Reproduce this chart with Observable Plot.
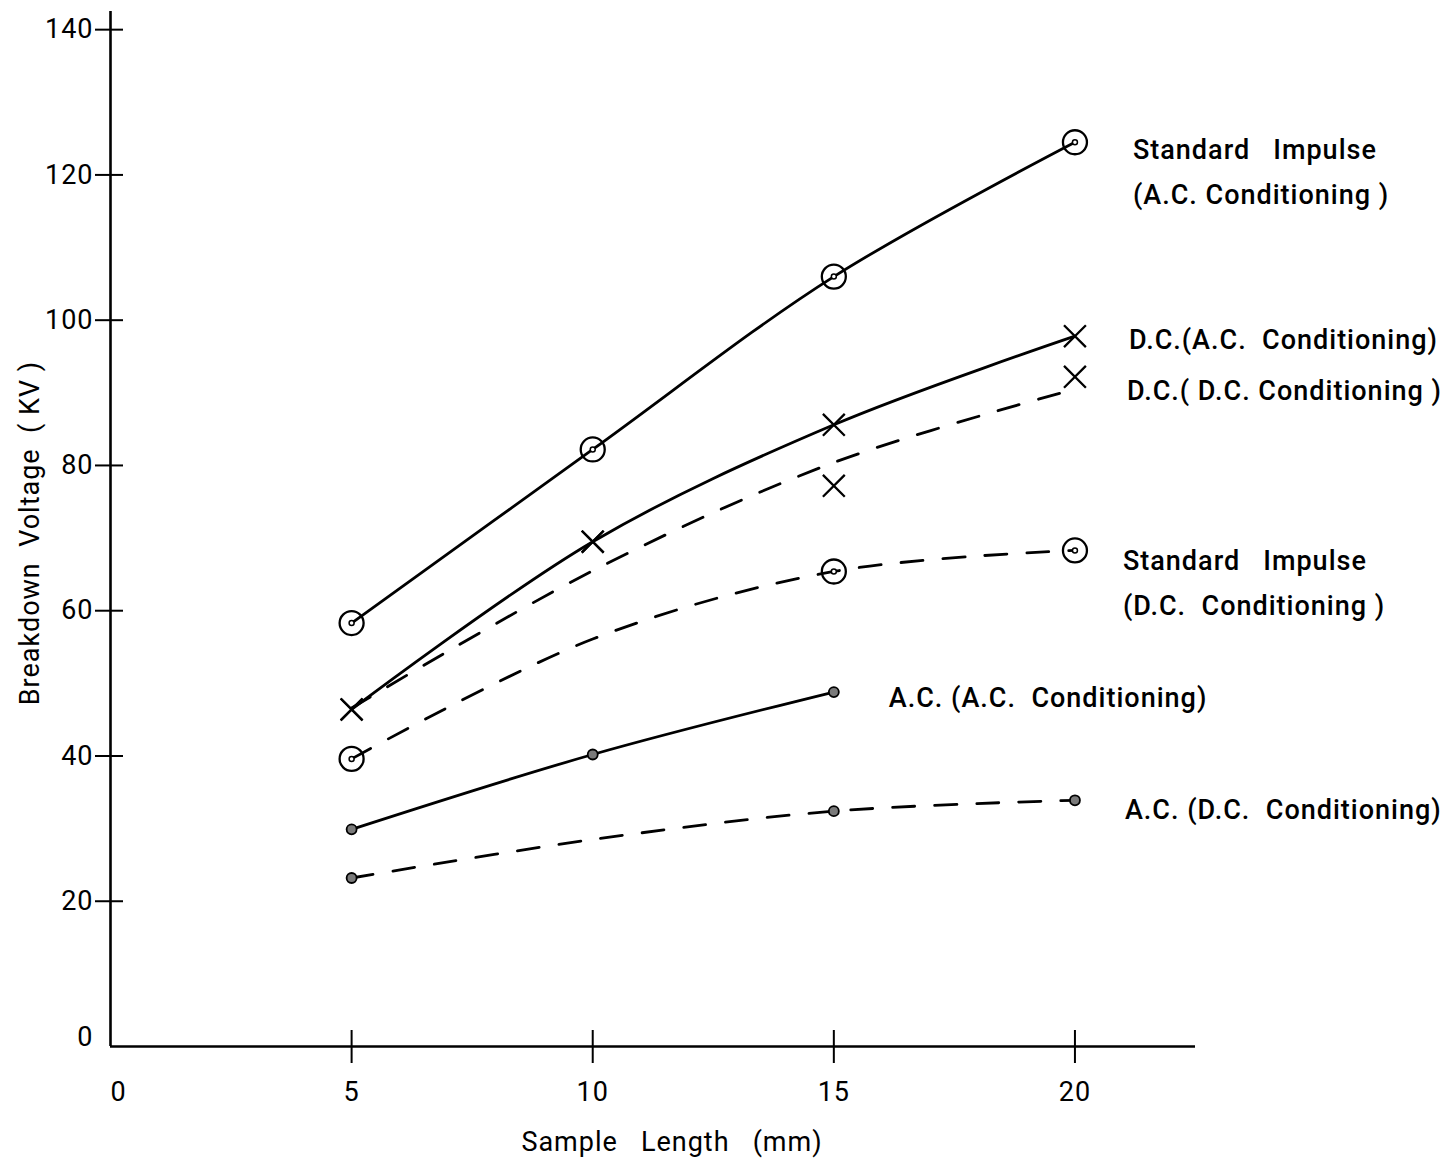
<!DOCTYPE html>
<html>
<head>
<meta charset="utf-8">
<script src="https://cdn.jsdelivr.net/npm/d3@7"></script>
<script src="https://cdn.jsdelivr.net/npm/@observablehq/plot@0.6"></script>
<style>
  body { margin: 0; background: #fff; }
  #chart svg text { letter-spacing: 1px; white-space: pre; }
</style>
</head>
<body>
<div id="chart"></div>
<script>
// Sample lengths (mm) at which breakdown was measured
const lengths = [5, 10, 15, 20];

// Breakdown voltage (kV); null where no measurement was plotted
const impulseAC       = [58.3, 82.2, 106.0, 124.5];
const dcAC            = [46.4, 69.5, 85.6, 97.8];
const dcDCPoints      = [46.4, 69.5, 77.2, 92.2];
const dcDCCurve       = [46.6, 65.5, 80.4, 90.5];
const impulseDCPoints = [39.6, null, 65.4, 68.3];
const impulseDCCurve  = [39.6, 56.1, 65.4, 68.3];
const acAC            = [29.9, 40.2, 48.8, null];
const acDCPoints      = [23.2, null, 32.4, 33.9];
const acDCCurve       = [23.2, 28.5, 32.4, 33.9];

// Axis ticks
const xTicks = [5, 10, 15, 20];
const yTicks = [20, 40, 60, 80, 100, 120, 140];

// Curve labels
const labelImpulseAC = "Standard   Impulse\n(A.C. Conditioning )";
const labelDcAC      = "D.C.(A.C.  Conditioning)";
const labelDcDC      = "D.C.( D.C. Conditioning )";
const labelImpulseDC = "Standard   Impulse\n(D.C.  Conditioning )";
const labelAcAC      = "A.C. (A.C.  Conditioning)";
const labelAcDC      = "A.C. (D.C.  Conditioning)";

const rows = (vals) => lengths.map((x, i) => ({x, y: vals[i]})).filter(d => d.y != null);
const last = (vals) => rows(vals).slice(-1);

const solid = {x: "x", y: "y", curve: "catmull-rom", stroke: "black", strokeWidth: 2.8};
const dashed = {...solid, strokeDasharray: "22,20"};
const ring = {x: "x", y: "y", r: 12, stroke: "black", strokeWidth: 2.3, fill: "none"};
const pip = {x: "x", y: "y", r: 2.5, stroke: "black", strokeWidth: 1.5, fill: "white"};
const cross = {x: "x", y: "y", symbol: "times", r: 10, stroke: "black", strokeWidth: 2.3};
const bead = {x: "x", y: "y", r: 5, stroke: "black", strokeWidth: 1.8, fill: "#7a7a7a"};
const label = (vals, text, dx, dy) =>
  Plot.text(last(vals), {x: "x", y: "y", text: () => text, textAnchor: "start", lineHeight: 1.65, dx, dy, fill: "black", fontWeight: 500});

const chart = Plot.plot({
  width: 1446,
  height: 1162,
  marginLeft: 110,
  marginRight: 251,
  marginTop: 11,
  marginBottom: 116,
  style: {fontFamily: "Roboto, 'DejaVu Sans', sans-serif", fontSize: "27px", background: "white", color: "black"},
  x: {domain: [0, 22.5]},
  y: {domain: [0, 142.5]},
  marks: [
    // axes
    Plot.ruleX([0], {stroke: "black", strokeWidth: 2.6}),
    Plot.ruleY([0], {stroke: "black", strokeWidth: 2.6}),
    Plot.axisY({ticks: yTicks, tickSize: 28, dx: 13, tickPadding: 2, strokeWidth: 2, label: null, tickFormat: d => d}),
    Plot.axisY({ticks: [0], tickSize: 0, dx: -17, dy: -9, tickPadding: 0, label: null}),
    Plot.axisX({ticks: xTicks, tickSize: 33, dy: -16, tickPadding: 18, strokeWidth: 2, label: null}),
    Plot.axisX({ticks: [0], tickSize: 0, dx: 8, dy: -16, tickPadding: 51, label: null}),
    Plot.text(["Sample   Length   (mm)"], {text: d => d, frameAnchor: "bottom", lineAnchor: "middle", dx: 19, dy: 96}),
    Plot.text(["Breakdown  Voltage  ( KV )"], {text: d => d, frameAnchor: "left", textAnchor: "middle", lineAnchor: "middle", rotate: -90, dx: -80, dy: 4}),

    // curves
    Plot.line(rows(impulseAC), solid),
    Plot.line(rows(dcAC), solid),
    Plot.line(rows(dcDCCurve), dashed),
    Plot.line(rows(impulseDCCurve), dashed),
    Plot.line(rows(acAC), solid),
    Plot.line(rows(acDCCurve), dashed),

    // measured points
    Plot.dot(rows(impulseAC), ring),
    Plot.dot(rows(impulseAC), pip),
    Plot.dot(rows(impulseDCPoints), ring),
    Plot.dot(rows(impulseDCPoints), pip),
    Plot.dot(rows(dcAC), cross),
    Plot.dot(rows(dcDCPoints), cross),
    Plot.dot(rows(acAC), bead),
    Plot.dot(rows(acDCPoints), bead),

    // curve labels
    label(impulseAC, labelImpulseAC, 58, 25),
    label(dcAC, labelDcAC, 54, -1),
    label(dcDCPoints, labelDcDC, 52, 9),
    label(impulseDCPoints, labelImpulseDC, 48, 28),
    label(acAC, labelAcAC, 55, 1),
    label(acDCPoints, labelAcDC, 50, 4)
  ]
});

document.getElementById("chart").append(chart);
</script>
</body>
</html>
